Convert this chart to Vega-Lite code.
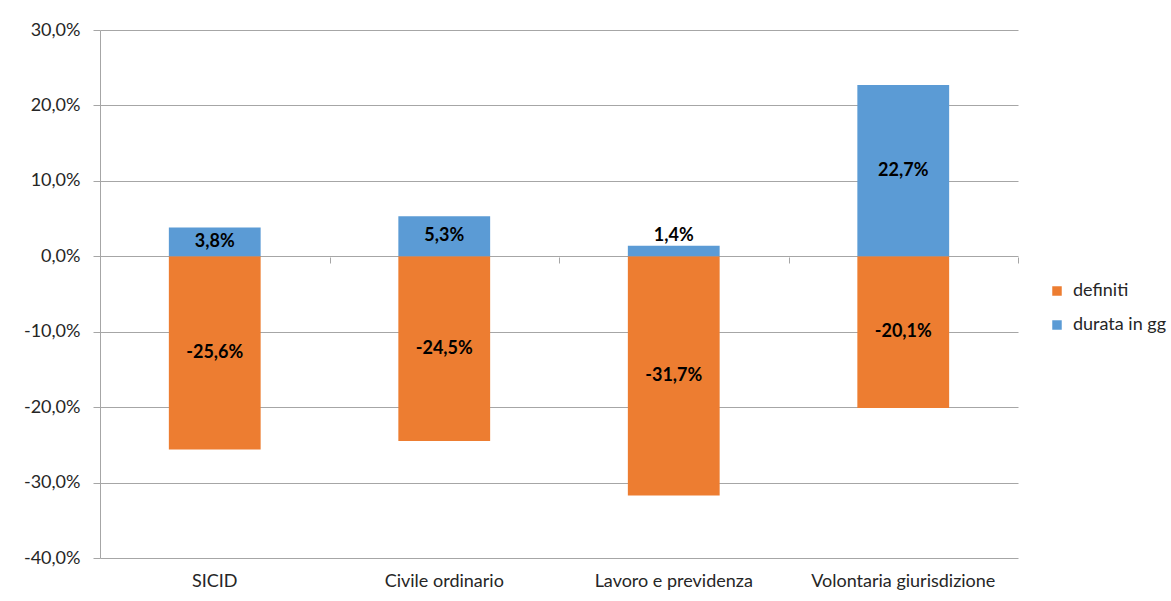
{
  "$schema": "https://vega.github.io/schema/vega-lite/v6.json",
  "width": 918,
  "height": 528,
  "autosize": {"type": "none"},
  "padding": {"left": 100, "top": 30, "right": 153, "bottom": 43},
  "background": "white",
  "config": {
    "locale": {"number": {"decimal": ",", "thousands": ".", "grouping": [3], "currency": ["", " €"], "minus": "-"}},
    "font": "Lato",
    "view": {"stroke": null},
    "axis": {"labelFont": "Lato", "labelFontSize": 18, "labelColor": "#262626"}
  },
  "data": {
    "values": [
      {"cat": "SICID", "serie": "definiti", "value": -0.256},
      {"cat": "SICID", "serie": "durata in gg", "value": 0.038},
      {"cat": "Civile ordinario", "serie": "definiti", "value": -0.245},
      {"cat": "Civile ordinario", "serie": "durata in gg", "value": 0.053},
      {"cat": "Lavoro e previdenza", "serie": "definiti", "value": -0.317},
      {"cat": "Lavoro e previdenza", "serie": "durata in gg", "value": 0.014},
      {"cat": "Volontaria giurisdizione", "serie": "definiti", "value": -0.201},
      {"cat": "Volontaria giurisdizione", "serie": "durata in gg", "value": 0.227}
    ]
  },
  "resolve": {"axis": {"x": "independent"}},
  "layer": [
    {
      "mark": {"type": "bar"},
      "encoding": {
        "x": {
          "field": "cat", "type": "nominal", "sort": null,
          "scale": {"paddingInner": 0.6, "paddingOuter": 0.3},
          "axis": {"title": null, "labelAngle": 0, "domain": false, "ticks": false, "labelPadding": 14, "labelColor": "#262626", "labelLimit": 400, "labelOverlap": false}
        },
        "y": {
          "field": "value", "type": "quantitative", "stack": null,
          "scale": {"domain": [-0.4, 0.3], "nice": false, "zero": false},
          "axis": {
            "title": null, "values": [-0.4, -0.3, -0.2, -0.1, 0, 0.1, 0.2, 0.3],
            "format": ".1%", "grid": true, "gridColor": "#A6A6A6", "gridWidth": 1,
            "domain": true, "domainColor": "#A6A6A6", "tickColor": "#A6A6A6", "tickSize": 7,
            "labelPadding": 13, "labelColor": "#262626"
          }
        },
        "color": {
          "field": "serie", "type": "nominal",
          "scale": {"domain": ["definiti", "durata in gg"], "range": ["#ED7D31", "#5B9BD5"]},
          "legend": {
            "title": null, "orient": "none", "legendX": 948, "legendY": 252,
            "symbolType": "square", "symbolSize": 90, "symbolStrokeWidth": 0,
            "labelFont": "Lato", "labelFontSize": 18, "labelColor": "#262626", "labelLimit": 300,
            "rowPadding": 16, "padding": 0, "labelOffset": 7
          }
        }
      }
    },
    {
      "transform": [
        {"filter": "datum.value <= 0 || datum.value >= 0.02"},
        {"calculate": "datum.value / 2", "as": "mid"}
      ],
      "mark": {"type": "text", "fontWeight": "bold", "fontSize": 18, "font": "Lato", "color": "#000000", "baseline": "middle"},
      "encoding": {
        "x": {"field": "cat", "type": "nominal", "sort": null,
          "axis": {"orient": "bottom", "offset": -301, "labels": false, "domain": false, "ticks": true, "tickSize": 6, "tickColor": "#A6A6A6", "tickOffset": 115, "title": null}},
        "y": {"field": "mid", "type": "quantitative"},
        "text": {"field": "value", "type": "quantitative", "format": ".1%"}
      }
    },
    {
      "transform": [
        {"filter": "datum.value > 0 && datum.value < 0.02"}
      ],
      "mark": {"type": "text", "fontWeight": "bold", "fontSize": 18, "font": "Lato", "color": "#000000", "baseline": "bottom", "dy": -1},
      "encoding": {
        "x": {"field": "cat", "type": "nominal", "sort": null, "axis": null},
        "y": {"field": "value", "type": "quantitative"},
        "text": {"field": "value", "type": "quantitative", "format": ".1%"}
      }
    }
  ]
}
